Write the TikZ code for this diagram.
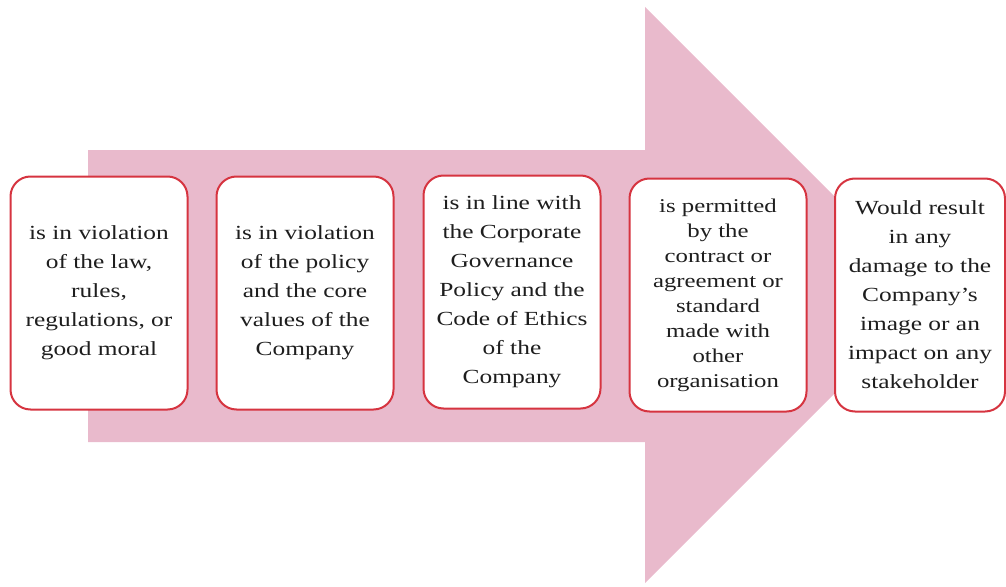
\documentclass[tikz,border=0pt]{standalone}
\usepackage{fontspec}
\setmainfont{Liberation Serif}
\newfontfamily\widefont[FakeStretch=1.27]{Liberation Serif}
\definecolor{arrowpink}{RGB}{233,186,204}
\definecolor{cardred}{RGB}{214,52,64}
\definecolor{inkgray}{RGB}{30,30,30}
\begin{document}
\begin{tikzpicture}[x=1pt,y=-1pt,
  card/.style={draw=cardred, line width=2pt, fill=white, rounded corners=20pt,
    minimum width=177pt, minimum height=233pt, align=center, text=inkgray,
    inner sep=0pt, font=\widefont\fontsize{20}{29}\selectfont},
  tight/.style={font=\widefont\fontsize{19.5}{25}\selectfont}]
\useasboundingbox (0,0) rectangle (1006,586);

% big block arrow behind the cards
\fill[arrowpink] (88,150) -- (645,150) -- (645,7) -- (933,295)
  -- (645,583) -- (645,442) -- (88,442) -- cycle;

% the five cards
\node[card] (c1) at (99,293) {is in violation\\of the law,\\rules,\\regulations, or\\good moral};
\node[card] (c2) at (305,293) {is in violation\\of the policy\\and the core\\values of the\\Company};
\node[card] (c3) at (512,292) {is in line with\\the Corporate\\Governance\\Policy and the\\Code of Ethics\\of the\\Company};
\node[card,tight] (c4) at (718,295) {is permitted\\by the\\contract or\\agreement or\\standard\\made with\\other\\organisation};
\node[card,minimum width=170pt] (c5) at (920,295) {Would result\\in any\\damage to the\\Company’s\\image or an\\impact on any\\stakeholder};
\end{tikzpicture}
\end{document}
